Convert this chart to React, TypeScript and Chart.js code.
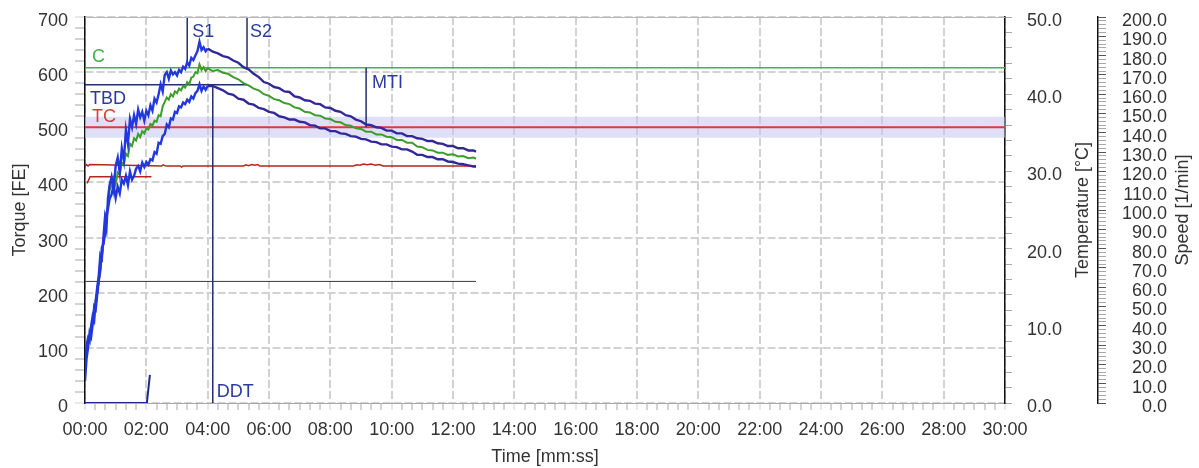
import React, { useEffect, useRef } from 'react';
import { Chart, registerables } from 'chart.js';

Chart.register(...registerables);

const FONT = '"Liberation Sans", Arial, Helvetica, sans-serif';
Chart.defaults.font.family = FONT;
Chart.defaults.font.size = 18;
Chart.defaults.color = '#333333';

// ---- time axis (seconds) ----
const timeMax = 1800;
const timeLabels = [
  '00:00', '02:00', '04:00', '06:00', '08:00', '10:00', '12:00', '14:00',
  '16:00', '18:00', '20:00', '22:00', '24:00', '26:00', '28:00', '30:00',
];

// ---- torque band: upper envelope, median, lower envelope ----
const bandTime = [
  0, 3, 6, 9, 12, 15, 18, 21, 24, 27, 30, 33, 36, 39, 42, 45, 48,
  52, 56, 60, 64, 68, 72, 76, 80, 84, 88,
  92, 96, 100, 104, 108, 112, 116, 120, 124, 128,
  132, 136, 140, 144, 148, 152, 156, 160, 164, 168,
  172, 176, 180, 184, 188, 192, 196, 200, 204, 208,
  212, 216, 220, 224, 228, 232, 236, 240,
  250, 260, 270, 280, 290, 300, 310, 320, 330, 340,
  350, 360, 370, 380, 390, 400, 410, 420, 430, 440,
  450, 460, 470, 480, 490, 500, 510, 520, 530, 540,
  550, 560, 570, 580, 590, 600, 610, 620, 630, 640,
  650, 660, 670, 680, 690, 700, 710, 720, 730, 740,
  750, 760, 765,
];

const upperTorque = [
  60, 105, 118, 112, 140, 158, 150, 185, 210, 232, 268, 262, 300, 335, 318, 372, 395,
  410, 388, 430, 445, 418, 462, 440, 495, 470, 515,
  500, 522, 506, 532, 518, 528, 512, 530, 522, 540,
  530, 552, 545, 560, 578, 565, 595, 600, 588, 603,
  596, 600, 594, 604, 600, 610, 606, 618, 612, 626,
  622, 630, 638, 655, 640, 645, 638, 643,
  637, 634, 629, 627, 621, 617, 609, 605, 597, 591,
  582, 579, 573, 571, 565, 564, 556, 554, 549, 548,
  543, 542, 536, 535, 530, 528, 522, 520, 514, 511,
  505, 504, 500, 499, 494, 494, 489, 489, 484, 484,
  480, 479, 475, 475, 471, 470, 466, 466, 462, 462,
  458, 458, 456,
];

const medianTorque = [
  50, 98, 110, 122, 132, 150, 168, 188, 205, 228, 250, 270, 292, 318, 340, 360, 385,
  395, 408, 396, 418, 414, 436, 432, 452, 448, 470,
  466, 480, 476, 488, 482, 493, 489, 498, 496, 506,
  503, 512, 510, 522, 520, 538, 546, 554, 550, 560,
  556, 565, 562, 570, 567, 575, 572, 582, 578, 590,
  592, 600, 598, 614, 604, 609, 602, 607,
  602, 604, 599, 597, 591, 587, 580, 576, 570, 567,
  560, 557, 551, 549, 544, 542, 536, 534, 528, 527,
  522, 521, 516, 515, 510, 509, 504, 503, 498, 497,
  492, 492, 487, 487, 483, 482, 477, 477, 472, 472,
  465, 464, 459, 458, 454, 454, 450, 451, 447, 448,
  444, 445, 443,
];

const lowerTorque = [
  40, 80, 100, 128, 120, 142, 175, 170, 198, 222, 240, 282, 288, 305, 345, 352, 370,
  378, 395, 372, 392, 380, 405, 398, 412, 395, 420,
  405, 412, 425, 430, 420, 436, 428, 437, 432, 442,
  440, 455, 452, 472, 470, 484, 488, 505, 500, 516,
  514, 528, 526, 538, 536, 545, 542, 550, 546, 556,
  552, 562, 566, 578, 566, 574, 568, 575,
  575, 571, 567, 561, 559, 552, 550, 543, 541, 535,
  533, 528, 526, 520, 518, 514, 514, 510, 509, 504,
  503, 498, 498, 493, 493, 489, 488, 484, 483, 479,
  478, 474, 473, 469, 469, 465, 464, 460, 460, 456,
  450, 450, 446, 446, 442, 442, 438, 437, 434, 433,
  431, 429, 429,
];

// ---- start-up trace (dashed) ----
const startTime = [0, 3, 6, 10, 15, 20, 25, 30, 35, 40, 45];
const startTorque = [70, 100, 115, 125, 150, 172, 200, 240, 280, 320, 350];

// ---- dosing trace ----
const dosingTime = [0, 121, 127];
const dosingTorque = [0, 0, 51];

// ---- temperatures [°C] ----
const tempTime = [
  0, 3, 6, 9, 150, 153, 156, 159, 186, 189, 192, 310, 315, 320,
  326, 332, 338, 342, 525, 532, 538, 545, 552, 560, 568, 576, 583, 765,
];
const tempMain = [
  30.7, 30.9, 30.7, 30.9, 30.7, 30.85, 30.75, 30.7, 30.7, 30.55, 30.7, 30.7, 30.85, 30.75,
  30.9, 30.8, 30.9, 30.7, 30.7, 30.85, 30.8, 30.95, 30.85, 30.95, 30.8, 30.9, 30.7, 30.7,
];
const auxTempTime = [4, 10, 130];
const auxTemp = [28.45, 29.3, 29.3];

// ---- speed [1/min] ----
const speedTime = [0, 765];
const speedValue = [63, 63];

// ---- evaluation levels (torque) and times (s) ----
const levelC = 608;
const levelTBD = 577;
const levelTC = 500;
const tcBandLow = 481;
const tcBandHigh = 519;
const timeS1 = 200;
const timeS2 = 317;
const timeDDT = 250;
const timeMTI = 550;
const tbdEnd = 317;
const s1Bottom = 616;
const s2Bottom = 605;
const mtiBottom = 500;

const COLORS = {
  bandEarly: '#2238dc',
  bandLate: '#33289a',
  median: '#3c9c2c',
  levelC: '#3db54a',
  levelTC: '#e03b3b',
  tcBand: 'rgba(196, 196, 242, 0.55)',
  temp: '#b3261e',
  speed: '#3a3a3a',
  marker: '#23306e',
  markerText: '#2b3a9e',
  start: '#e8465a',
  dosing: '#1e2a8a',
  grid: '#d2d2d2',
  minorTick: '#a8a8a8',
};

const pts = (xs: number[], ys: number[]) => xs.map((x, i) => ({ x, y: ys[i] }));
const hSeg = (level: number, from: number, to: number) => [
  { x: from, y: level },
  { x: to, y: level },
];
const vSeg = (t: number, from: number, to: number) => [
  { x: t, y: from },
  { x: t, y: to },
];

const bandSegment = {
  borderColor: (c: any) => (c.p0.parsed.x < 240 ? COLORS.bandEarly : COLORS.bandLate),
};

// fixed axis box sizes; vertical label padding is not allowed to push the plot down
const fixWidth = (w: number) => (s: any) => {
  s.width = w;
  s.paddingTop = 0;
  s.paddingBottom = 0;
};

const overlay = {
  id: 'overlay',
  afterDatasetsDraw(chart: any) {
    const { ctx, chartArea: a, scales } = chart;
    const px = (t: number) => scales.x.getPixelForValue(t);
    const py = (v: number) => scales.y.getPixelForValue(v);
    ctx.save();
    // top frame
    ctx.strokeStyle = '#b8b8b8';
    ctx.lineWidth = 1;
    ctx.beginPath();
    ctx.moveTo(a.left, a.top + 0.5);
    ctx.lineTo(a.right, a.top + 0.5);
    ctx.stroke();

    ctx.font = `18px ${FONT}`;
    ctx.textBaseline = 'middle';
    ctx.textAlign = 'left';
    const put = (text: string, color: string, x: number, y: number) => {
      ctx.fillStyle = color;
      ctx.fillText(text, x, y);
    };
    put('C', COLORS.levelC, a.left + 7, py(levelC) - 11);
    put('TBD', COLORS.markerText, a.left + 5, py(levelTBD) + 14);
    put('TC', COLORS.levelTC, a.left + 7, py(levelTC) - 10);
    put('S1', COLORS.markerText, px(timeS1) + 5, a.top + 15);
    put('S2', COLORS.markerText, px(timeS2) + 3, a.top + 15);
    put('MTI', COLORS.markerText, px(timeMTI) + 6, py(levelC) + 15);
    put('DDT', COLORS.markerText, px(timeDDT) + 4, a.bottom - 11);

    // right-hand axis titles, reading bottom to top
    const mid = (a.top + a.bottom) / 2;
    const titles: [number, string][] = [
      [scales.temp.right - 15, 'Temperature [°C]'],
      [scales.speed.right + 16, 'Speed [1/min]'],
    ];
    for (const [x, text] of titles) {
      ctx.save();
      ctx.translate(x, mid);
      ctx.rotate(-Math.PI / 2);
      ctx.textAlign = 'center';
      ctx.fillStyle = '#333333';
      ctx.fillText(text, 0, 0);
      ctx.restore();
    }
    ctx.restore();
  },
};

export default function App() {
  const canvasRef = useRef<HTMLCanvasElement | null>(null);

  useEffect(() => {
    const canvas = canvasRef.current;
    if (!canvas) return;

    const line = (extra: any) => ({
      pointRadius: 0,
      borderWidth: 1.5,
      fill: false,
      tension: 0,
      yAxisID: 'y',
      ...extra,
    });

    const chart = new Chart(canvas, {
      type: 'line',
      data: {
        datasets: [
          line({ label: 'upper', data: pts(bandTime, upperTorque), borderWidth: 2.4, segment: bandSegment, borderColor: COLORS.bandLate }),
          line({ label: 'lower', data: pts(bandTime, lowerTorque), borderWidth: 2.4, segment: bandSegment, borderColor: COLORS.bandLate }),
          line({ label: 'median', data: pts(bandTime, medianTorque), borderWidth: 2, borderColor: COLORS.median }),
          line({ label: 'start', data: pts(startTime, startTorque), borderWidth: 2, borderDash: [5, 3], borderColor: COLORS.start }),
          line({ label: 'dosing', data: pts(dosingTime, dosingTorque), borderWidth: 2, borderColor: COLORS.dosing }),
          line({ label: 'S1', data: vSeg(timeS1, 700, s1Bottom), borderColor: COLORS.marker }),
          line({ label: 'S2', data: vSeg(timeS2, 700, s2Bottom), borderColor: COLORS.marker }),
          line({ label: 'DDT', data: vSeg(timeDDT, levelTBD, 0), borderColor: COLORS.marker }),
          line({ label: 'MTI', data: vSeg(timeMTI, levelC, mtiBottom), borderColor: COLORS.marker }),
          line({ label: 'TBD', data: hSeg(levelTBD, 0, tbdEnd), borderColor: COLORS.marker }),
          line({ label: 'speed', data: pts(speedTime, speedValue), yAxisID: 'speed', borderWidth: 1, borderColor: COLORS.speed }),
          line({ label: 'temperature', data: pts(tempTime, tempMain), yAxisID: 'temp', borderColor: COLORS.temp }),
          line({ label: 'temperature 2', data: pts(auxTempTime, auxTemp), yAxisID: 'temp', borderColor: COLORS.temp }),
          line({ label: 'C', data: hSeg(levelC, 0, timeMax), borderColor: COLORS.levelC }),
          line({ label: 'TC', data: hSeg(levelTC, 0, timeMax), borderWidth: 2, borderColor: COLORS.levelTC }),
          line({
            label: 'TC band',
            data: hSeg(tcBandHigh, 0, timeMax),
            borderWidth: 0,
            borderColor: 'rgba(0,0,0,0)',
            backgroundColor: COLORS.tcBand,
            fill: { value: tcBandLow },
          }),
        ],
      },
      options: {
        animation: false,
        responsive: false,
        maintainAspectRatio: false,
        layout: { padding: { top: 17, left: 0, right: 32, bottom: 0 } },
        plugins: { legend: { display: false }, tooltip: { enabled: false } },
        scales: {
          x: {
            type: 'linear',
            min: 0,
            max: timeMax,
            afterFit: (s: any) => {
              s.height = 65;
            },
            border: { color: '#a8a8a8', width: 1, dash: [8, 3] },
            grid: {
              color: (c: any) => (c.tick && c.tick.value % 120 === 0 ? COLORS.grid : 'rgba(0,0,0,0)'),
              lineWidth: 2,
              tickColor: (c: any) => (c.tick && c.tick.value % 120 === 0 ? COLORS.grid : COLORS.minorTick),
              tickWidth: 1,
              tickLength: 7,
              tickBorderDash: [],
            },
            ticks: {
              stepSize: 20,
              autoSkip: false,
              maxRotation: 0,
              padding: 9,
              callback: (v: any) => (v % 120 === 0 ? timeLabels[v / 120] : ''),
            },
            title: { display: true, text: 'Time [mm:ss]', padding: 0 },
          },
          y: {
            type: 'linear',
            position: 'left',
            min: 0,
            max: 700,
            afterFit: fixWidth(85),
            border: { color: '#111111', width: 1.5, dash: [8, 3] },
            grid: {
              color: (c: any) => (c.tick && c.tick.value % 100 === 0 ? COLORS.grid : 'rgba(0,0,0,0)'),
              lineWidth: 2,
              tickColor: (c: any) => (c.tick && c.tick.value % 100 === 0 ? COLORS.grid : COLORS.minorTick),
              tickWidth: 1,
              tickLength: 10,
              tickBorderDash: [],
            },
            ticks: {
              stepSize: 20,
              autoSkip: false,
              padding: 7,
              labelOffset: 4,
              callback: (v: any) => (v % 100 === 0 ? String(v) : ''),
            },
            title: { display: true, text: 'Torque [FE]', padding: { top: 9, bottom: 0 } },
          },
          temp: {
            type: 'linear',
            position: 'right',
            weight: 0,
            min: 0,
            max: 50,
            afterFit: fixWidth(93),
            border: { color: '#111111', width: 1.5 },
            grid: { drawOnChartArea: false, tickColor: COLORS.minorTick, tickLength: 7 },
            ticks: {
              stepSize: 2,
              autoSkip: false,
              padding: 15,
              labelOffset: 4,
              callback: (v: any) => (v % 10 === 0 ? Number(v).toFixed(1) : ''),
            },
          },
          speed: {
            type: 'linear',
            position: 'right',
            weight: 1,
            min: 0,
            max: 200,
            afterFit: fixWidth(69),
            border: { color: '#111111', width: 1.5 },
            grid: {
              drawOnChartArea: false,
              tickColor: (c: any) => (c.tick && c.tick.value % 10 === 0 ? '#555555' : COLORS.minorTick),
              tickLength: 8,
            },
            ticks: {
              stepSize: 2,
              autoSkip: false,
              crossAlign: 'far',
              padding: 16,
              labelOffset: 4,
              callback: (v: any) => (v % 10 === 0 ? Number(v).toFixed(1) : ''),
            },
          },
        },
      } as any,
      plugins: [overlay],
    });

    return () => chart.destroy();
  }, []);

  return (
    <div style={{ position: 'fixed', left: 0, top: 0, width: 1199, height: 468, background: '#ffffff' }}>
      <canvas ref={canvasRef} width={1199} height={468} style={{ display: 'block' }} />
    </div>
  );
}
